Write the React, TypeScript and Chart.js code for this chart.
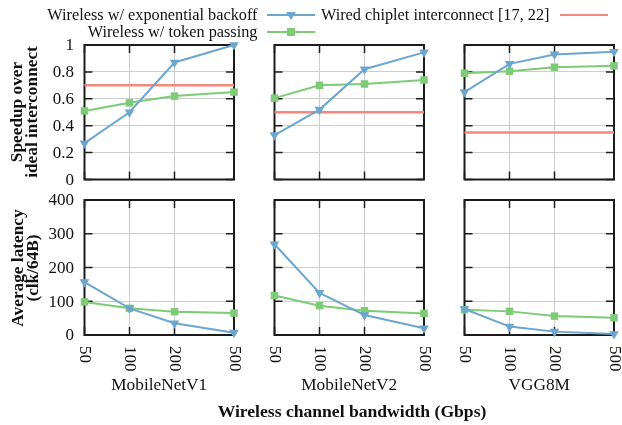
import React, { useEffect, useRef } from "react";
import { Chart, registerables } from "chart.js";

Chart.register(...registerables);

// ---------- data ----------
const bandwidths = [50, 100, 200, 500];
const xTickLabels = ["50", "100", "200", "500"];
const models = ["MobileNetV1", "MobileNetV2", "VGG8M"];

const speedupBackoffV1 = [0.27, 0.5, 0.87, 1.0];
const speedupBackoffV2 = [0.33, 0.52, 0.82, 0.945];
const speedupBackoffVGG = [0.65, 0.86, 0.93, 0.95];
const speedupTokenV1 = [0.51, 0.57, 0.62, 0.65];
const speedupTokenV2 = [0.605, 0.7, 0.71, 0.74];
const speedupTokenVGG = [0.79, 0.805, 0.835, 0.845];
const speedupWired = [0.7, 0.5, 0.35];

const latencyBackoffV1 = [157, 79, 35, 7];
const latencyBackoffV2 = [269, 125, 59, 20];
const latencyBackoffVGG = [77, 25, 10, 3];
const latencyTokenV1 = [98, 79, 69, 65];
const latencyTokenV2 = [117, 87, 72, 64];
const latencyTokenVGG = [75, 70, 56, 51];

const speedupTicks = [0, 0.2, 0.4, 0.6, 0.8, 1];
const speedupTickLabels = ["0", "0.2", "0.4", "0.6", "0.8", "1"];
const latencyTicks = [0, 100, 200, 300, 400];
const latencyTickLabels = ["0", "100", "200", "300", "400"];

const legendBackoff = "Wireless w/ exponential backoff";
const legendToken = "Wireless w/ token passing";
const legendWired = "Wired chiplet interconnect [17, 22]";
const yTitleTop = ["Speedup over", "ideal interconnect"];
const yTitleBottom = ["Average latency", "(clk/64B)"];
const xTitle = "Wireless channel bandwidth (Gbps)";

// ---------- style ----------
const W = 622;
const H = 425;
const BLUE = "#6ca6cf";
const GREEN = "#7dcb76";
const RED = "#f5877d";
const FONT = '"Liberation Serif", "Times New Roman", serif';
const colLeft = [84.5, 274.5, 464.5];
const colWidth = 149.5;
const rowTop = [45, 200];
const rowHeight = [134.5, 135];

const framePlugin = {
  id: "frame",
  beforeDatasetsDraw(chart: any, _args: any, opts: any) {
    const { ctx, chartArea: a, scales } = chart;
    const xs = scales.x;
    const ys = scales.y;
    ctx.save();
    ctx.strokeStyle = "#1c1c1c";
    ctx.lineWidth = 1.5;
    ctx.beginPath();
    for (const v of opts.yTicks) {
      const py = ys.getPixelForValue(v);
      ctx.moveTo(a.left, py);
      ctx.lineTo(a.left + 8, py);
      ctx.moveTo(a.right, py);
      ctx.lineTo(a.right - 8, py);
    }
    for (const v of bandwidths) {
      const px = xs.getPixelForValue(v);
      ctx.moveTo(px, a.top);
      ctx.lineTo(px, a.top + 8);
      ctx.moveTo(px, a.bottom);
      ctx.lineTo(px, a.bottom - 8);
    }
    ctx.stroke();
    ctx.lineWidth = 2;
    ctx.strokeRect(a.left, a.top, a.right - a.left, a.bottom - a.top);

    ctx.fillStyle = "#111";
    ctx.font = `17px ${FONT}`;
    if (opts.showY) {
      ctx.textAlign = "right";
      ctx.textBaseline = "middle";
      opts.yTicks.forEach((v: number, i: number) => {
        ctx.fillText(opts.yLabels[i], a.left - 10.5, ys.getPixelForValue(v) + 1);
      });
    }
    if (opts.showX) {
      ctx.textAlign = "left";
      ctx.textBaseline = "middle";
      bandwidths.forEach((v, i) => {
        const px = xs.getPixelForValue(v);
        ctx.save();
        ctx.translate(px, a.bottom + 11);
        ctx.rotate(Math.PI / 2);
        ctx.fillText(xTickLabels[i], 0, 0);
        ctx.restore();
      });
    }
    ctx.restore();
  },
};

type Panel = {
  col: number;
  row: number;
  backoff: number[];
  token: number[];
  wired?: number;
};

const panels: Panel[] = [
  { col: 0, row: 0, backoff: speedupBackoffV1, token: speedupTokenV1, wired: speedupWired[0] },
  { col: 1, row: 0, backoff: speedupBackoffV2, token: speedupTokenV2, wired: speedupWired[1] },
  { col: 2, row: 0, backoff: speedupBackoffVGG, token: speedupTokenVGG, wired: speedupWired[2] },
  { col: 0, row: 1, backoff: latencyBackoffV1, token: latencyTokenV1 },
  { col: 1, row: 1, backoff: latencyBackoffV2, token: latencyTokenV2 },
  { col: 2, row: 1, backoff: latencyBackoffVGG, token: latencyTokenVGG },
];

function PanelChart({ p }: { p: Panel }) {
  const ref = useRef<HTMLCanvasElement>(null);
  useEffect(() => {
    if (!ref.current) return;
    const top = p.row === 0;
    const yTicks = top ? speedupTicks : latencyTicks;
    const datasets: any[] = [];
    if (p.wired !== undefined) {
      datasets.push({
        data: [
          { x: bandwidths[0], y: p.wired },
          { x: bandwidths[bandwidths.length - 1], y: p.wired },
        ],
        borderColor: RED,
        borderWidth: 2.5,
        pointRadius: 0,
        clip: false,
        order: 3,
      });
    }
    datasets.push({
      data: bandwidths.map((b, i) => ({ x: b, y: p.token[i] })),
      borderColor: GREEN,
      backgroundColor: GREEN,
      borderWidth: 2,
      pointStyle: "rect",
      pointRadius: 5.3,
      pointBorderWidth: 0,
      clip: false,
      order: 2,
    });
    datasets.push({
      data: bandwidths.map((b, i) => ({ x: b, y: p.backoff[i] })),
      borderColor: BLUE,
      backgroundColor: BLUE,
      borderWidth: 2,
      pointStyle: "triangle",
      pointRotation: 180,
      pointRadius: 5.6,
      pointBorderWidth: 0,
      clip: false,
      order: 1,
    });
    const chart = new Chart(ref.current, {
      type: "line",
      data: { datasets },
      plugins: [framePlugin],
      options: {
        animation: false,
        responsive: false,
        devicePixelRatio: 1,
        events: [],
        layout: {
          autoPadding: false,
          padding: {
            left: colLeft[p.col],
            top: rowTop[p.row],
            right: W - colLeft[p.col] - colWidth,
            bottom: H - rowTop[p.row] - rowHeight[p.row],
          },
        },
        plugins: {
          legend: { display: false },
          tooltip: { enabled: false },
          frame: {
            yTicks,
            yLabels: top ? speedupTickLabels : latencyTickLabels,
            showY: p.col === 0,
            showX: p.row === 1,
          },
        } as any,
        scales: {
          x: {
            type: "logarithmic",
            min: bandwidths[0],
            max: bandwidths[bandwidths.length - 1],
            afterBuildTicks: (s: any) => {
              s.ticks = bandwidths.map((v) => ({ value: v }));
            },
            ticks: { display: false },
            grid: { color: "#cdcdcd", lineWidth: 1, drawTicks: false },
            border: { display: false },
          },
          y: {
            type: "linear",
            min: yTicks[0],
            max: yTicks[yTicks.length - 1],
            afterBuildTicks: (s: any) => {
              s.ticks = yTicks.map((v) => ({ value: v }));
            },
            ticks: { display: false },
            grid: { color: "#cdcdcd", lineWidth: 1, drawTicks: false },
            border: { display: false },
          },
        },
      } as any,
    });
    return () => chart.destroy();
  }, [p]);
  return (
    <canvas
      ref={ref}
      width={W}
      height={H}
      style={{ position: "absolute", left: 0, top: 0, width: W, height: H }}
    />
  );
}

function LegendSample({ left, y, color, marker }: { left: number; y: number; color: string; marker?: "tri" | "sq" }) {
  return (
    <>
      <div
        style={{
          position: "absolute",
          left,
          top: y - 1.25,
          width: 48,
          height: 2.5,
          background: color,
        }}
      />
      {marker === "tri" && (
        <div
          style={{
            position: "absolute",
            left: left + 24 - 5,
            top: y - 3,
            width: 0,
            height: 0,
            borderLeft: "5px solid transparent",
            borderRight: "5px solid transparent",
            borderTop: `8px solid ${color}`,
          }}
        />
      )}
      {marker === "sq" && (
        <div
          style={{
            position: "absolute",
            left: left + 24 - 3.75,
            top: y - 3.75,
            width: 7.5,
            height: 7.5,
            background: color,
          }}
        />
      )}
    </>
  );
}

function LegendText({ right, y, text }: { right: number; y: number; text: string }) {
  return (
    <div
      style={{
        position: "absolute",
        right: W - right,
        top: y - 10,
        height: 20,
        lineHeight: "20px",
        fontSize: 16.3,
        whiteSpace: "nowrap",
        color: "#111",
      }}
    >
      {text}
    </div>
  );
}

function YTitle({ cx, cy, lines }: { cx: number; cy: number; lines: string[] }) {
  return (
    <div
      style={{
        position: "absolute",
        left: cx,
        top: cy,
        transform: "translate(-50%, -50%) rotate(-90deg)",
        whiteSpace: "nowrap",
        textAlign: "center",
        fontWeight: "bold",
        fontSize: 17.3,
        lineHeight: "14.5px",
        color: "#111",
      }}
    >
      {lines[0]}
      <br />
      {lines[1]}
    </div>
  );
}

export default function App() {
  return (
    <div
      style={{
        position: "absolute",
        left: 0,
        top: 0,
        width: W,
        height: H,
        background: "#fff",
        fontFamily: FONT,
        overflow: "hidden",
      }}
    >
      {panels.map((p, i) => (
        <PanelChart key={i} p={p} />
      ))}

      <LegendText right={257.5} y={15} text={legendBackoff} />
      <LegendSample left={267} y={15} color={BLUE} marker="tri" />
      <LegendText right={549.5} y={15} text={legendWired} />
      <LegendSample left={560} y={15} color={RED} />
      <LegendText right={257.5} y={32} text={legendToken} />
      <LegendSample left={267} y={32} color={GREEN} marker="sq" />

      <YTitle cx={24} cy={112} lines={yTitleTop} />
      <YTitle cx={25} cy={267.5} lines={yTitleBottom} />

      {models.map((m, i) => (
        <div
          key={m}
          style={{
            position: "absolute",
            left: colLeft[i] + colWidth / 2,
            top: 385,
            transform: "translate(-50%, -50%)",
            fontSize: 17.3,
            whiteSpace: "nowrap",
            color: "#111",
          }}
        >
          {m}
        </div>
      ))}

      <div
        style={{
          position: "absolute",
          left: 352,
          top: 411,
          transform: "translate(-50%, -50%)",
          fontSize: 17.6,
          fontWeight: "bold",
          whiteSpace: "nowrap",
          color: "#111",
        }}
      >
        {xTitle}
      </div>
    </div>
  );
}
